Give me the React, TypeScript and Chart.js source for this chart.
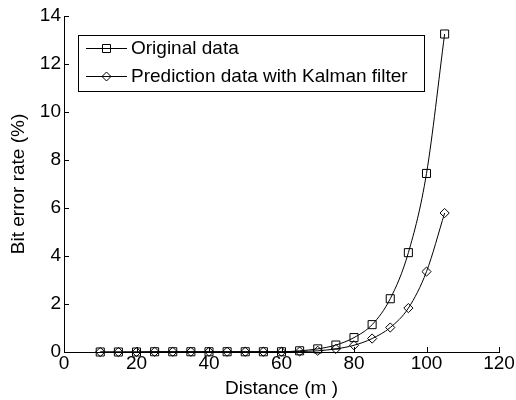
import React, { useEffect, useRef } from "react";
import Chart from "chart.js/auto";

const distance = [10, 15, 20, 25, 30, 35, 40, 45, 50, 55, 60, 65, 70, 75, 80, 85, 90, 95, 100, 105];
const originalData = [0, 0, 0, 0.01, 0.01, 0.01, 0.01, 0.01, 0.01, 0.01, 0.01, 0.05, 0.13, 0.29, 0.6, 1.14, 2.22, 4.14, 7.44, 13.25];
const kalmanData = [0, 0, 0, 0.01, 0.01, 0.01, 0.01, 0.01, 0.01, 0.01, 0.01, 0.02, 0.05, 0.13, 0.28, 0.56, 1.02, 1.83, 3.35, 5.79];
const seriesLabels = ["Original data", "Prediction data with Kalman filter"];
const xTicks = [0, 20, 40, 60, 80, 100, 120];
const yTicks = [0, 2, 4, 6, 8, 10, 12, 14];

const FONT = '"Liberation Sans", Arial, Helvetica, sans-serif';
const FS = 19;

function drawSquare(ctx: CanvasRenderingContext2D, x: number, y: number, h: number) {
  ctx.beginPath();
  ctx.rect(x - h, y - h, 2 * h, 2 * h);
  ctx.stroke();
}
function drawDiamond(ctx: CanvasRenderingContext2D, x: number, y: number, r: number) {
  ctx.beginPath();
  ctx.moveTo(x, y - r);
  ctx.lineTo(x + r, y);
  ctx.lineTo(x, y + r);
  ctx.lineTo(x - r, y);
  ctx.closePath();
  ctx.stroke();
}

const matlabPlugin = {
  id: "matlabDecor",
  afterDraw(chart: any) {
    const ctx: CanvasRenderingContext2D = chart.ctx;
    const { left, bottom } = chart.chartArea;
    const xs = chart.scales.x;
    const ys = chart.scales.y;
    ctx.save();
    ctx.strokeStyle = "#000";
    ctx.lineWidth = 1;
    // inward ticks
    ctx.beginPath();
    xTicks.forEach((v) => {
      const px = Math.round(xs.getPixelForValue(v)) + 0.5;
      ctx.moveTo(px, bottom);
      ctx.lineTo(px, bottom - 5);
    });
    yTicks.forEach((v) => {
      const py = Math.round(ys.getPixelForValue(v)) + 0.5;
      ctx.moveTo(left, py);
      ctx.lineTo(left + 5, py);
    });
    ctx.stroke();

    // legend box
    const bx = 78.5, by = 35.5, bw = 346, bh = 56;
    ctx.fillStyle = "#fff";
    ctx.fillRect(bx, by, bw, bh);
    ctx.strokeRect(bx, by, bw, bh);
    const rows = [48, 76];
    rows.forEach((ry, i) => {
      const y = ry + 0.5;
      ctx.beginPath();
      ctx.moveTo(86, y);
      ctx.lineTo(127, y);
      ctx.stroke();
      if (i === 0) drawSquare(ctx, 106.5, y, 4);
      else drawDiamond(ctx, 106.5, y, 4.5);
      ctx.fillStyle = "#000";
      ctx.font = `${FS}px ${FONT}`;
      ctx.textBaseline = "middle";
      ctx.textAlign = "left";
      ctx.fillText(seriesLabels[i], 131, ry + 1);
    });
    ctx.restore();
  },
};

export default function App() {
  const ref = useRef<HTMLCanvasElement | null>(null);
  useEffect(() => {
    document.body.style.margin = "0";
    if (!ref.current) return;
    const chart = new Chart(ref.current, {
      type: "line",
      data: {
        datasets: [
          {
            label: seriesLabels[0],
            data: distance.map((d, i) => ({ x: d, y: originalData[i] })),
            borderColor: "#000",
            borderWidth: 1,
            pointStyle: "rect",
            pointRadius: 5.7,
            pointBorderColor: "#000",
            pointBorderWidth: 1,
            pointBackgroundColor: "rgba(0,0,0,0)",
            cubicInterpolationMode: "monotone",
            fill: false,
          },
          {
            label: seriesLabels[1],
            data: distance.map((d, i) => ({ x: d, y: kalmanData[i] })),
            borderColor: "#000",
            borderWidth: 1,
            pointStyle: "rectRot",
            pointRadius: 4.6,
            pointBorderColor: "#000",
            pointBorderWidth: 1,
            pointBackgroundColor: "rgba(0,0,0,0)",
            cubicInterpolationMode: "monotone",
            fill: false,
          },
        ],
      },
      options: {
        animation: false,
        responsive: true,
        maintainAspectRatio: false,
        layout: { padding: { top: 16, right: 17, left: 0, bottom: 0 } },
        plugins: { legend: { display: false }, tooltip: { enabled: false } },
        elements: { line: { tension: 0 } },
        clip: false as any,
        scales: {
          x: {
            type: "linear",
            min: 0,
            max: 120,
            afterBuildTicks: (s: any) => {
              s.ticks = xTicks.map((v) => ({ value: v }));
            },
            afterFit: (s: any) => {
              s.height = 48;
            },
            ticks: { color: "#000", font: { family: FONT, size: FS }, padding: 0, maxRotation: 0 },
            grid: { drawOnChartArea: false, drawTicks: false },
            border: { display: true, color: "#000", width: 1 },
            title: {
              display: true,
              text: "Distance (m )",
              color: "#000",
              font: { family: FONT, size: FS },
              padding: { top: 1, bottom: 0 },
            },
          },
          y: {
            type: "linear",
            min: 0,
            max: 14,
            afterBuildTicks: (s: any) => {
              s.ticks = yTicks.map((v) => ({ value: v }));
            },
            afterFit: (s: any) => {
              s.width = 64;
            },
            ticks: { color: "#000", font: { family: FONT, size: FS }, padding: 3 },
            grid: { drawOnChartArea: false, drawTicks: false },
            border: { display: true, color: "#000", width: 1 },
            title: {
              display: true,
              text: "Bit error rate (%)",
              color: "#000",
              font: { family: FONT, size: FS },
              padding: { top: 7, bottom: 0 },
            },
          },
        },
      },
      plugins: [matlabPlugin],
    });
    return () => chart.destroy();
  }, []);
  return (
    <div style={{ position: "fixed", left: 0, top: 0, width: 516, height: 400, background: "#fff" }}>
      <canvas ref={ref} />
    </div>
  );
}
